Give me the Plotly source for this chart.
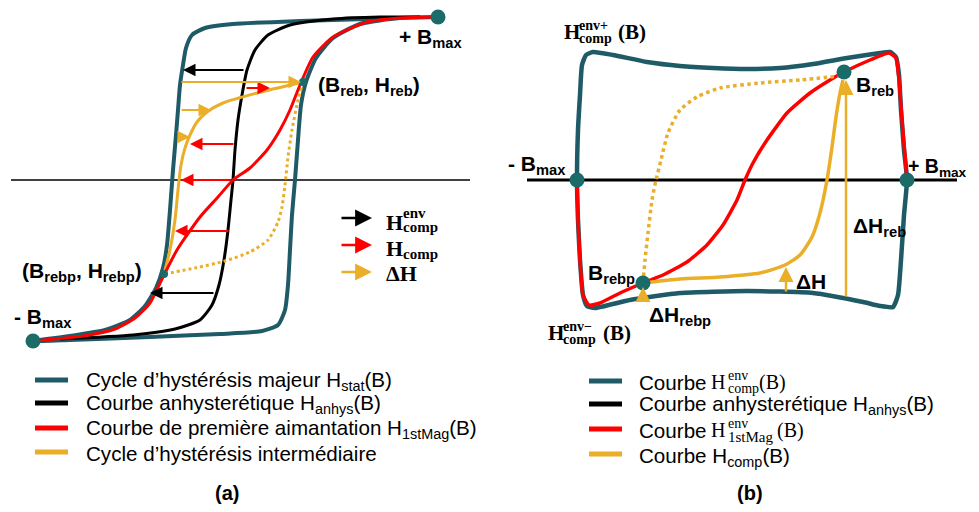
import plotly.graph_objects as go

# ---------------- colours ----------------
TEAL = "#1f5b67"
DOT = "#1b6b68"
RED = "#ff0000"
ORANGE = "#eaae29"
BLACK = "#000000"

# ---------------- panel (a) data (picture coordinates) ----------------
a_major_x = [438, 400, 367, 300, 233, 205, 192, 186, 183, 180, 178, 176, 173, 170, 167, 163, 156, 145, 130, 105, 70, 33,
             70, 150, 220, 262, 278, 285, 288, 290, 292, 295, 298, 301, 306, 316, 333, 360, 400, 438]
a_major_y = [17, 18, 19, 21, 24, 28, 35, 48, 65, 85, 110, 135, 170, 210, 245, 268, 288, 306, 320, 330, 336, 341,
             340, 337, 334, 331, 325, 310, 285, 250, 215, 180, 140, 105, 82, 58, 38, 24, 18, 17]

a_anhys_x = [60, 133, 175, 200, 212, 219, 224, 228, 231, 233, 235, 238, 242, 247, 255, 268, 290, 333, 380, 420]
a_anhys_y = [339, 335, 329, 320, 305, 285, 260, 230, 200, 180, 150, 120, 95, 70, 50, 35, 25, 19, 17, 17]

a_first_x = [33, 83, 115, 135, 150, 163, 177, 200, 218, 233, 250, 267, 280, 290, 300, 313, 333, 367, 400, 438]
a_first_y = [341, 336, 329, 318, 303, 277, 250, 217, 197, 180, 168, 150, 130, 110, 85, 57, 37, 22, 18, 17]

a_inter_x = [164, 170, 175, 178, 181, 185, 190, 197, 207, 223, 257, 303]
a_inter_y = [274, 250, 220, 190, 165, 148, 135, 122, 112, 103, 93, 82]

a_interdot_x = [303, 298, 292, 288, 285, 282, 278, 268, 250, 225, 195, 164]
a_interdot_y = [82, 100, 130, 157, 185, 207, 222, 240, 252, 261, 268, 274]

a_axis_x = [11, 470]
a_axis_y = [180, 180]

a_big_x = [33, 438]
a_big_y = [341, 17]
a_small_x = [164, 303]
a_small_y = [274, 82]

# arrows: (tail_x, tail_y, head_x, head_y)
a_black_arrows = [(245, 70, 183, 70), (215, 293, 150, 293)]
a_red_arrows = [(245, 88, 270, 88), (235, 144, 190, 144), (231, 180, 181, 180), (230, 231, 175, 231)]
a_orange_arrows = [(180, 82, 301, 82), (180, 110, 211, 110), (178, 137, 190, 137)]
a_key_arrows = [(340, 218, 372, 218, BLACK), (340, 245, 372, 245, RED), (340, 272, 372, 272, ORANGE)]

# ---------------- panel (b) data ----------------
b_env_x = [593, 613, 647, 680, 713, 747, 780, 813, 847, 880, 890, 896, 899, 901, 904, 907, 904, 901, 898, 893,
           880, 863, 813, 747, 680, 630, 595, 587, 583, 580, 578, 577, 578, 580, 582, 586, 593]
b_env_y = [52, 55, 62, 66, 68, 69, 68, 64, 58, 53, 52, 57, 75, 110, 150, 180, 215, 260, 295, 307,
           306, 302, 293, 291, 293, 300, 308, 306, 295, 260, 220, 180, 130, 95, 65, 55, 52]

b_first_x = [577, 578, 580, 583, 589, 600, 620, 643, 663, 687, 707, 723, 737, 745, 753, 767, 787, 810, 830, 844,
             870, 889, 896, 899, 902, 905, 907]
b_first_y = [180, 220, 260, 295, 305, 303, 293, 283, 275, 262, 245, 225, 200, 180, 163, 140, 113, 93, 80, 72,
             60, 53, 58, 80, 120, 155, 180]

b_comp_x = [643, 680, 720, 760, 785, 800, 812, 820, 827, 832, 836, 840, 843]
b_comp_y = [283, 279, 277, 273, 265, 255, 237, 213, 180, 147, 117, 93, 80]

b_compdot_x = [643, 645, 648, 652, 656, 661, 668, 680, 697, 720, 760, 800, 840]
b_compdot_y = [283, 260, 233, 200, 180, 160, 133, 110, 97, 88, 83, 80, 76]

b_axis_x = [527, 957]
b_axis_y = [180, 180]

b_pts_x = [577, 907, 844, 643]
b_pts_y = [180, 180, 72, 283]

b_orange_arrows = [(846, 298, 846, 80), (786, 293, 786, 267), (643, 298, 643, 287)]

# ---------------- legend data ----------------
leg_a_colors = [TEAL, BLACK, RED, ORANGE]
leg_a_y = [380, 403, 428, 452]
leg_a_labels = ["Cycle d’hystérésis majeur H<sub>stat</sub>(B)",
                "Courbe anhysterétique H<sub>anhys</sub>(B)",
                "Courbe de première aimantation H<sub>1stMag</sub>(B)",
                "Cycle d’hystérésis intermédiaire"]
leg_b_colors = [TEAL, BLACK, RED, ORANGE]
leg_b_y = [381, 404, 429, 454]

fig = go.Figure()


def line(x, y, color, width, dash="solid", smooth=0.6):
    fig.add_trace(go.Scatter(x=x, y=y, mode="lines",
                             line=dict(color=color, width=width, dash=dash, shape="spline", smoothing=smooth),
                             hoverinfo="skip"))


# panel (a)
line(a_axis_x, a_axis_y, BLACK, 1.3, smooth=0)
line(a_major_x, a_major_y, TEAL, 4)
line(a_anhys_x, a_anhys_y, BLACK, 3)
line(a_interdot_x, a_interdot_y, ORANGE, 3, dash="dot")
line(a_inter_x, a_inter_y, ORANGE, 3)
line(a_first_x, a_first_y, RED, 3)

# panel (b)
line(b_axis_x, b_axis_y, BLACK, 3, smooth=0)
line(b_env_x, b_env_y, TEAL, 4.5, smooth=0.5)
line(b_first_x, b_first_y, RED, 3.5, smooth=0.5)
line(b_compdot_x, b_compdot_y, ORANGE, 3.5, dash="dot")
line(b_comp_x, b_comp_y, ORANGE, 3.5)

# points
fig.add_trace(go.Scatter(x=a_big_x, y=a_big_y, mode="markers", marker=dict(color=DOT, size=15), hoverinfo="skip"))
fig.add_trace(go.Scatter(x=a_small_x, y=a_small_y, mode="markers", marker=dict(color=DOT, size=8), hoverinfo="skip"))

# legend swatches
for c, yy in zip(leg_a_colors, leg_a_y):
    fig.add_trace(go.Scatter(x=[35, 68], y=[yy, yy], mode="lines", line=dict(color=c, width=5), hoverinfo="skip"))
for c, yy in zip(leg_b_colors, leg_b_y):
    fig.add_trace(go.Scatter(x=[589, 622], y=[yy, yy], mode="lines", line=dict(color=c, width=5), hoverinfo="skip"))

ann = []


def arrow(tx, ty, hx, hy, color, width=2, size=1.25):
    ann.append(dict(x=hx, y=hy, ax=tx, ay=ty, xref="x", yref="y", axref="x", ayref="y", text="",
                    showarrow=True, arrowhead=2, arrowsize=size, arrowwidth=width, arrowcolor=color, standoff=0))


for t in a_black_arrows:
    arrow(*t, BLACK)
for t in a_red_arrows:
    arrow(*t, RED)
for t in a_orange_arrows:
    arrow(*t, ORANGE)
for tx, ty, hx, hy, c in a_key_arrows:
    arrow(tx, ty, hx, hy, c, width=2.5, size=1.35)
for t in b_orange_arrows:
    arrow(*t, ORANGE, width=2.5, size=1.2)

SANS = "Liberation Sans, Arial, sans-serif"
SERIF = "Liberation Serif, Times New Roman, serif"


def text(x, y, s, size=21, family=SANS, bold=True, anchor="left", color=BLACK):
    if bold:
        s = "<b>" + s + "</b>"
    ann.append(dict(x=x, y=y, xref="x", yref="y", text=s, showarrow=False, xanchor=anchor, yanchor="middle",
                    font=dict(family=family, size=size, color=color)))


# labels panel (a)
text(397, 38, "+ B<sub>max</sub>")
text(316, 86, "(B<sub>reb</sub>, H<sub>reb</sub>)")
text(20, 272, "(B<sub>rebp</sub>, H<sub>rebp</sub>)")
text(12, 318, "- B<sub>max</sub>")

# key labels panel (a)
text(384, 222, "H", size=22, family=SERIF)
text(401, 213, "env", size=15, family=SERIF)
text(401, 227, "comp", size=15, family=SERIF)
text(384, 248, "H", size=22, family=SERIF)
text(401, 254, "comp", size=15, family=SERIF)
text(384, 273, "ΔH", size=22, family=SERIF)

# labels panel (b)
text(562, 32, "H", size=21, family=SERIF)
text(577, 25, "env+", size=14, family=SERIF)
text(577, 38, "comp", size=14, family=SERIF)
text(616, 32, "(B)", size=21, family=SERIF)

text(546, 333, "H", size=21, family=SERIF)
text(561, 326, "env−", size=14, family=SERIF)
text(561, 339, "comp", size=14, family=SERIF)
text(601, 333, "(B)", size=21, family=SERIF)

text(854, 86, "B<sub>reb</sub>")
text(506, 165, "- B<sub>max</sub>")
text(906, 167, "+ B<sub>max</sub>", size=19.5)
text(851, 227, "ΔH<sub>reb</sub>")
text(794, 281, "ΔH")
text(586, 274, "B<sub>rebp</sub>")
text(647, 316, "ΔH<sub>rebp</sub>")

# bottom legends
LS = 20.6
for yy, s in zip(leg_a_y, leg_a_labels):
    text(84, yy + 1, s, size=LS, bold=False)

text(637, leg_b_y[0] + 1, "Courbe", size=LS, bold=False)
text(709, leg_b_y[0] + 1, "H", size=20, family=SERIF, bold=False)
text(726, leg_b_y[0] - 6, "env", size=14, family=SERIF, bold=False)
text(726, leg_b_y[0] + 7, "comp", size=14, family=SERIF, bold=False)
text(757, leg_b_y[0] + 1, "(B)", size=20, family=SERIF, bold=False)

text(637, leg_b_y[1] + 1, "Courbe anhysterétique H<sub>anhys</sub>(B)", size=LS, bold=False)

text(637, leg_b_y[2] + 1, "Courbe", size=LS, bold=False)
text(709, leg_b_y[2] + 1, "H", size=20, family=SERIF, bold=False)
text(726, leg_b_y[2] - 6, "env", size=14, family=SERIF, bold=False)
text(726, leg_b_y[2] + 8, "1stMag", size=15, family=SERIF, bold=False)
text(775, leg_b_y[2] + 1, "(B)", size=20, family=SERIF, bold=False)

text(637, leg_b_y[3] + 3, "Courbe H<sub>comp</sub>(B)", size=LS, bold=False)

text(227, 493, "(a)", size=20, anchor="center")
text(750, 493, "(b)", size=20, anchor="center")

# dots panel (b) drawn last (on top of arrows' line)
fig.add_trace(go.Scatter(x=b_pts_x, y=b_pts_y, mode="markers", marker=dict(color=DOT, size=15), hoverinfo="skip"))

# the page adds an 8px body margin on each side: fit the figure inside the
# visible area (no scrollbars) and offset the ranges so picture coordinates land in place
OFF = 8
W, H = 979, 512
fig.update_layout(width=W - 2 * OFF, height=H - 2 * OFF, autosize=False, margin=dict(l=0, r=0, t=0, b=0),
                  paper_bgcolor="white", plot_bgcolor="white", showlegend=False, annotations=ann,
                  xaxis=dict(range=[OFF, W - OFF], visible=False, fixedrange=True),
                  yaxis=dict(range=[H - OFF, OFF], visible=False, fixedrange=True))

fig.write_html("out.html")
